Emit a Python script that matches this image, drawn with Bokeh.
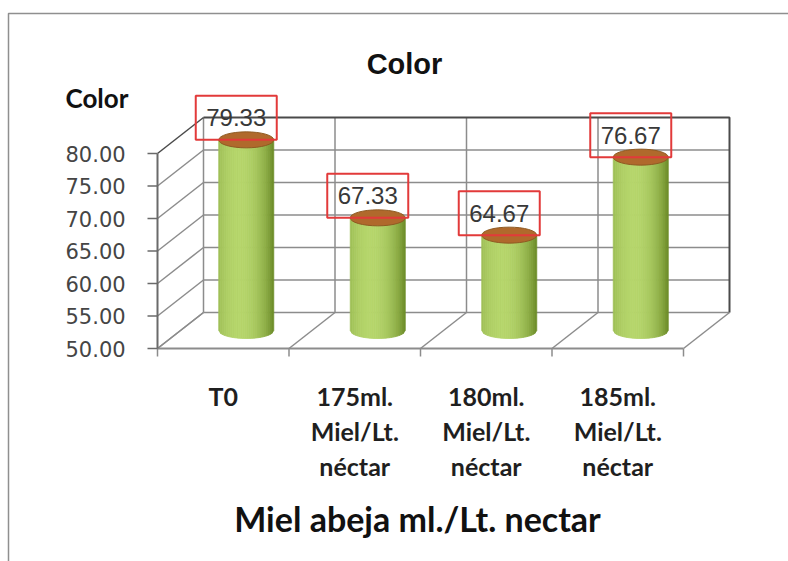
import math
from bokeh.plotting import figure
from bokeh.models import Range1d
from bokeh.core.properties import value
from bokeh.embed import file_html
from bokeh.resources import INLINE

# ---- data -------------------------------------------------------------
categories = ["T0",
              "175ml.\nMiel/Lt.\nnéctar",
              "180ml.\nMiel/Lt.\nnéctar",
              "185ml.\nMiel/Lt.\nnéctar"]
values = [79.33, 67.33, 64.67, 76.67]
y_ticks = [50, 55, 60, 65, 70, 75, 80]
chart_title = "Color"
y_title = "Color"
x_title = "Miel abeja ml./Lt. nectar"

# ---- layout (pixels) ----------------------------------------------------
W, H = 788, 561
X0_PX = 157          # left edge of the front plane
CAT_PX = 131.5       # width of one category slot
Y_BASE_PX = 348      # row of the lowest tick on the front plane
PX_PER_UNIT = 6.5    # pixels per value unit
VMIN, VMAX = y_ticks[0], y_ticks[-1]


def X(px):
    return (px - X0_PX) / CAT_PX


def Y(py):
    return VMIN + (Y_BASE_PX - py) / PX_PER_UNIT


# oblique depth of the 3D box, in data units
DX = 46 / CAT_PX
DY = 36 / PX_PER_UNIT
n = len(categories)

p = figure(width=W, height=H, output_backend="svg", toolbar_location=None,
           x_axis_type=None, y_axis_type=None, min_border=0,
           x_range=Range1d(X(0), X(W)), y_range=Range1d(Y(H), Y(0)))
p.grid.visible = False
p.outline_line_color = None
p.background_fill_color = "white"
p.border_fill_color = "white"

GRID = "#8c8c8c"
EDGE = "#4a4a4a"

# outer chart border
p.line([X(8), X(8), X(W + 10)], [Y(H + 10), Y(13), Y(13)],
       line_color="#8f8f8f", line_width=1.5)

# back wall
p.quad(left=DX, right=n + DX, bottom=VMIN + DY, top=VMAX + DY,
       fill_color="white", line_color=None)
p.multi_line([[DX, n + DX] for t in y_ticks[:-1]],
             [[t + DY, t + DY] for t in y_ticks[:-1]],
             line_color=GRID, line_width=1.5)
p.multi_line([[k + DX, k + DX] for k in range(n)],
             [[VMIN + DY, VMAX + DY] for k in range(n)],
             line_color=GRID, line_width=1.5)
# back wall top and right edges
p.line([DX, n + DX, n + DX], [VMAX + DY, VMAX + DY, VMIN + DY],
       line_color=EDGE, line_width=2)

# left side wall
p.multi_line([[0, DX] for t in y_ticks[:-1]],
             [[t, t + DY] for t in y_ticks[:-1]],
             line_color=GRID, line_width=1.5)
p.line([0, DX], [VMAX, VMAX + DY], line_color=EDGE, line_width=1.5)

# floor
p.multi_line([[k, k + DX] for k in range(n + 1)],
             [[VMIN, VMIN + DY] for k in range(n + 1)],
             line_color=GRID, line_width=1.5)
p.line([0, n], [VMIN, VMIN], line_color=GRID, line_width=2)
p.multi_line([[k, k] for k in range(n + 1)],
             [[VMIN, VMIN - 8 / PX_PER_UNIT] for k in range(n + 1)],
             line_color=GRID, line_width=1.5)

# front value axis
p.line([0, 0], [VMIN, VMAX], line_color="#6a6a6a", line_width=2)
p.multi_line([[-10 / CAT_PX, 0] for t in y_ticks],
             [[t, t] for t in y_ticks],
             line_color="#6a6a6a", line_width=1.5)
p.text(x=[X(65)] * len(y_ticks), y=y_ticks,
       text=[f"{t:.2f}" for t in y_ticks],
       text_align="left", text_baseline="middle",
       text_font=value("DejaVu Sans"), text_font_size="21px",
       text_color="#454545")

# cylinders
CYL_W = 55 / CAT_PX
CAP_H = 16 / PX_PER_UNIT
DARK = (104, 136, 36)
LIGHT = (182, 214, 108)
STRIPS = 28
base = VMIN + DY / 2
for k, v in enumerate(values):
    xc = k + 0.5 + DX / 2
    top = v + DY / 2
    xs, ys, cols = [], [], []
    for i in range(STRIPS):
        x0 = xc - CYL_W / 2 + i * CYL_W / STRIPS
        x1 = x0 + CYL_W / STRIPS

        def arc(x):
            r = max(0.0, 1 - ((x - xc) / (CYL_W / 2)) ** 2)
            return base - CAP_H / 2 * math.sqrt(r)

        xs.append([x0, x1, x1, x0])
        ys.append([top, top, arc(x1), arc(x0)])
        t = ((x0 + x1) / 2 - xc) / (CYL_W / 2)
        light = max(0.0, 1 - ((t + 0.25) / 1.25) ** 2) ** 0.8
        c = tuple(int(d + (l - d) * light) for d, l in zip(DARK, LIGHT))
        cols.append("#%02x%02x%02x" % c)
    p.patches(xs, ys, fill_color=cols, line_color=cols, line_width=0.8)
    p.ellipse(x=[xc], y=[top], width=CYL_W, height=CAP_H,
              fill_color="#b0692c", line_color="#8f5a22", line_width=1)

# value labels in red frames
BOX_W = 81 / CAT_PX
BOX_H = 44 / PX_PER_UNIT
lx = [k + 0.5 + DX / 2 - 10 / CAT_PX for k in range(n)]
ly = [v + DY / 2 + BOX_H / 2 for v in values]
p.rect(x=lx, y=ly, width=BOX_W, height=BOX_H, fill_color=None,
       line_color="#e23a3a", line_width=2)
p.text(x=lx, y=ly, text=[f"{v:.2f}" for v in values],
       text_align="center", text_baseline="middle",
       text_font=value("Liberation Sans"), text_font_size="24px",
       text_color="#383838")

# category labels, one line per row
LINE_PX = 35
for k, cat in enumerate(categories):
    for j, line in enumerate(cat.split("\n")):
        p.text(x=[k + 0.5], y=[Y(395 + LINE_PX * j)], text=[line],
               text_align="center", text_baseline="alphabetic",
               text_font=value("Lato"), text_font_style="bold",
               text_font_size="25px", text_color="#1f1f1f")

# titles
p.text(x=[X(404)], y=[Y(63)], text=[chart_title], text_align="center",
       text_baseline="alphabetic", text_font=value("Liberation Sans"),
       text_font_style="bold", text_font_size="29px", text_color="#111111")
p.text(x=[X(65)], y=[Y(97)], text=[y_title], text_align="left",
       text_baseline="alphabetic", text_font=value("Lato"),
       text_font_style="bold", text_font_size="26px", text_color="#111111")
p.text(x=[X(417)], y=[Y(518)], text=[x_title], text_align="center",
       text_baseline="alphabetic", text_font=value("Lato"),
       text_font_style="bold", text_font_size="34px", text_color="#111111")

open("out.html", "w").write(file_html(p, INLINE))
